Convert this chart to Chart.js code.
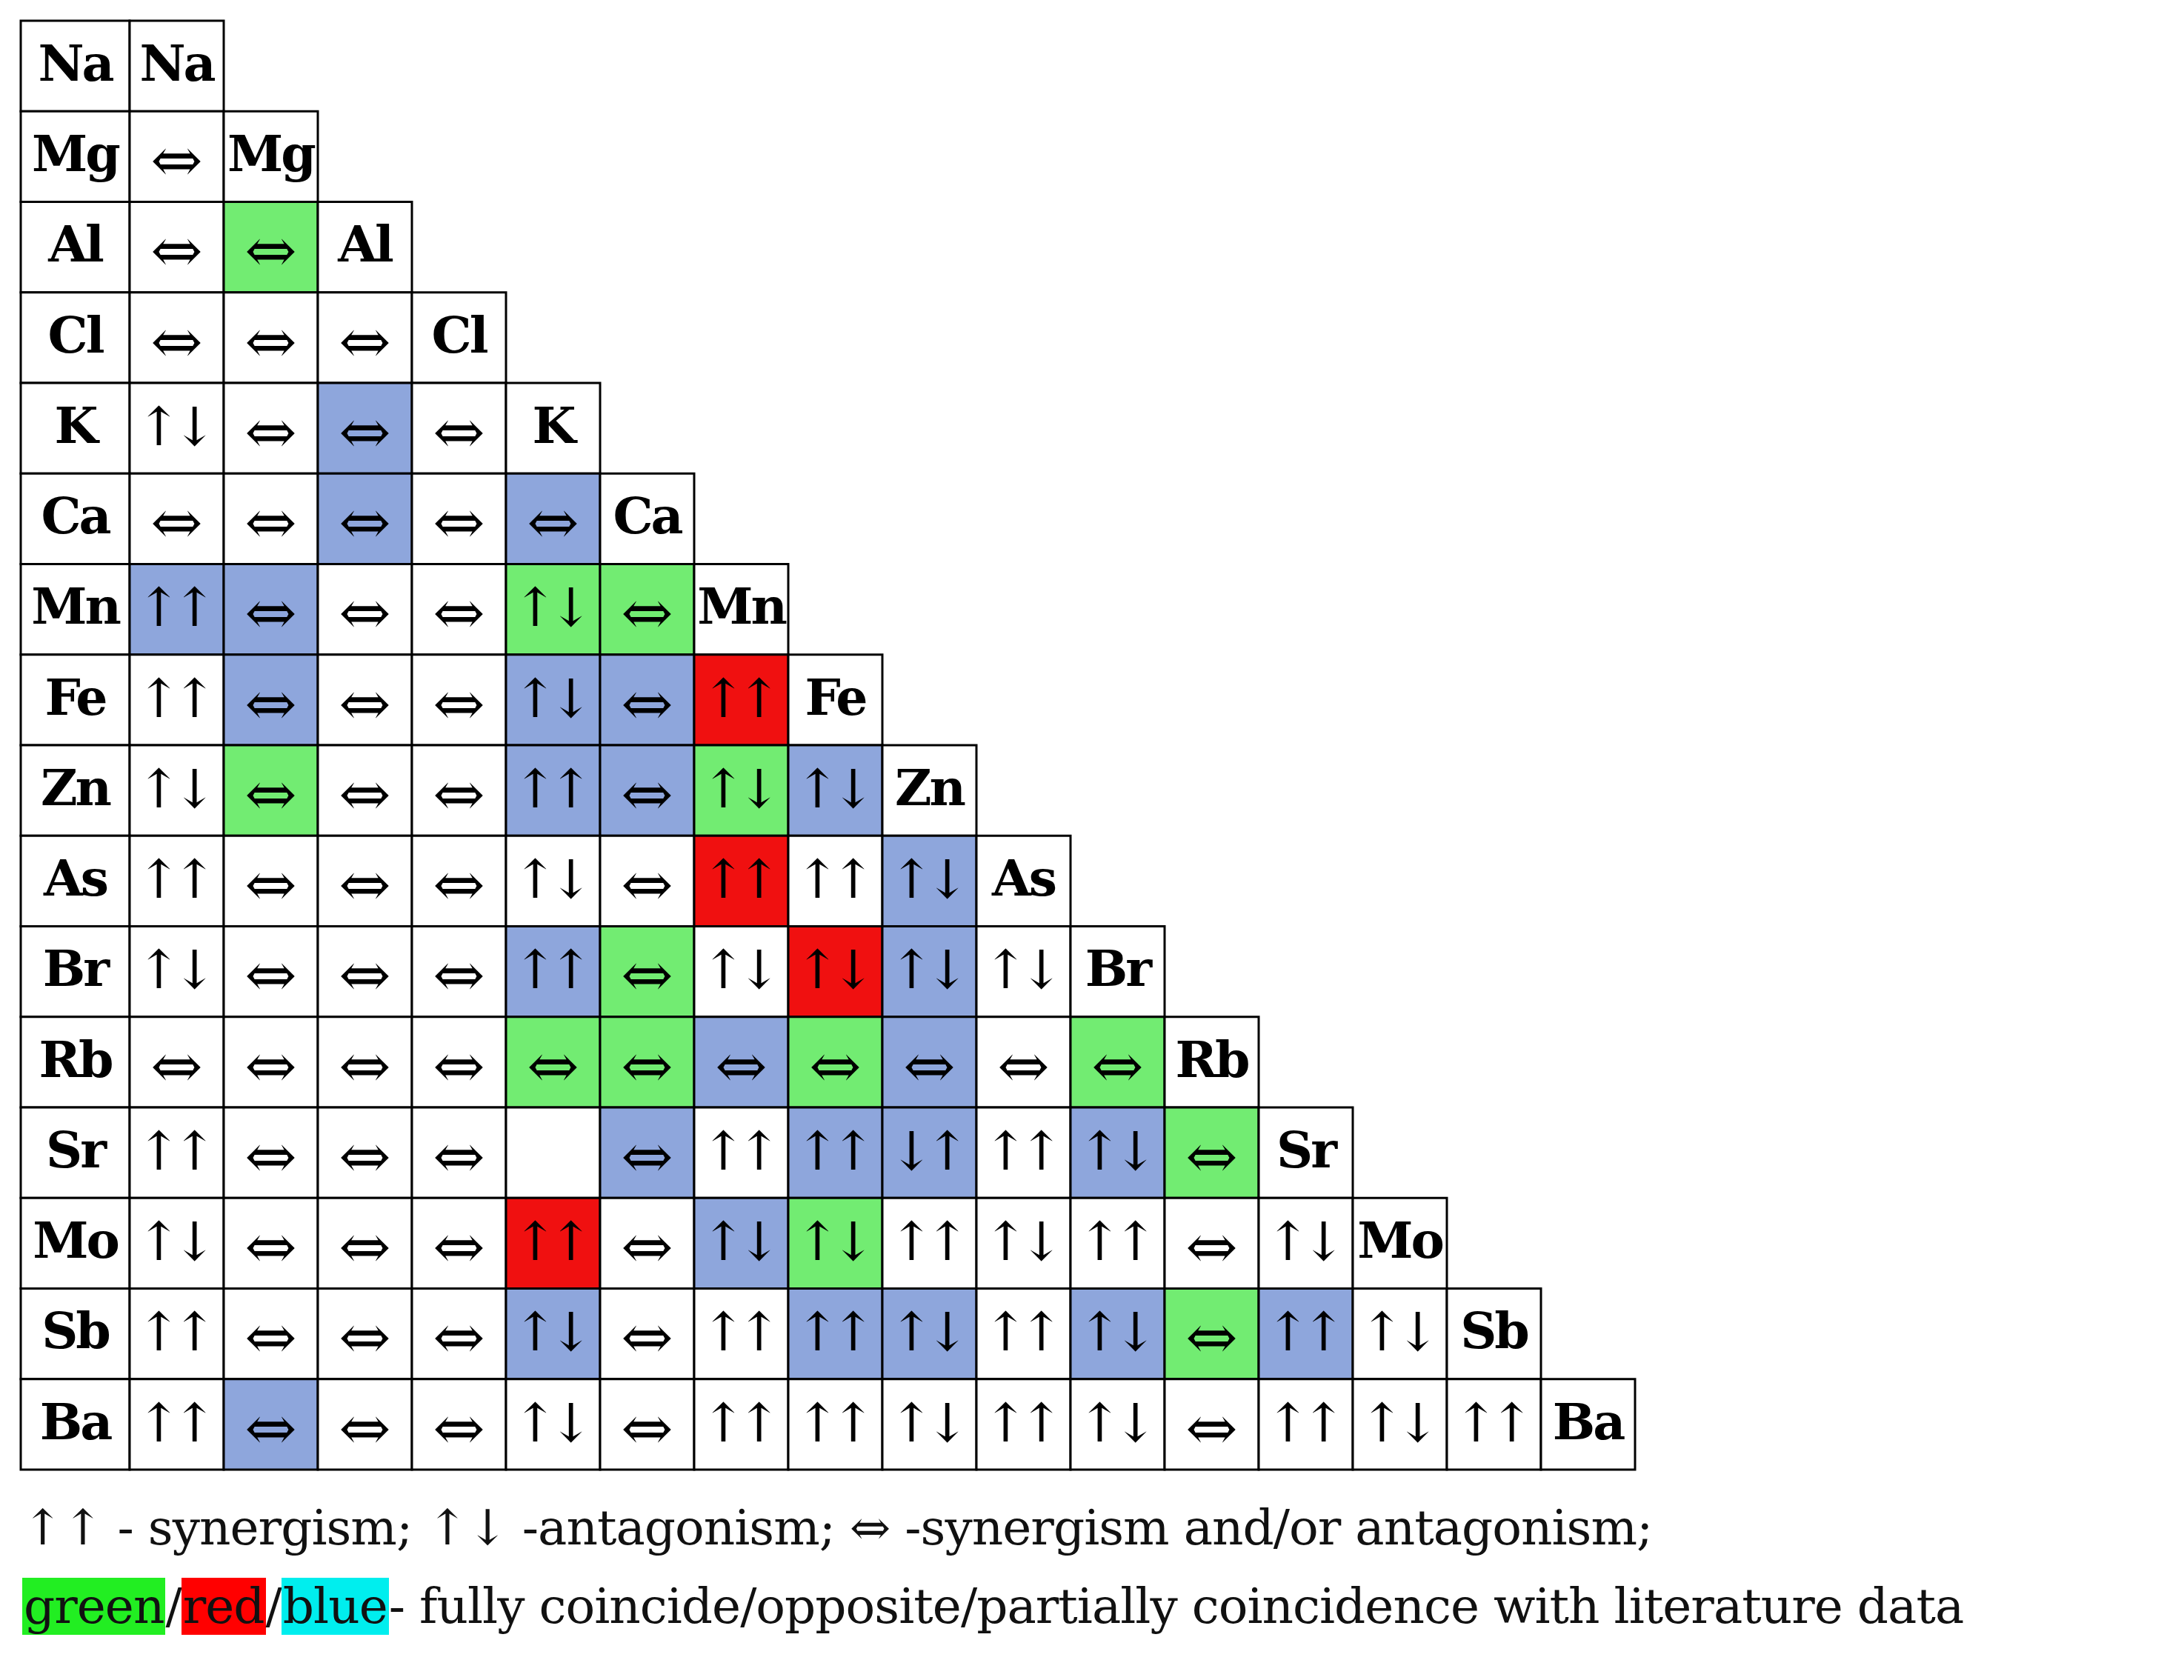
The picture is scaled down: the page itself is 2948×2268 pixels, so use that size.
<!DOCTYPE html>
<html>
<head>
<meta charset="utf-8">
<script src="https://cdn.jsdelivr.net/npm/chart.js@4/dist/chart.umd.min.js"></script>
<style>
  body { margin:0; background:#fff; }
  #wrap { width:2948px; height:2010px; position:relative; }
  .legend { font-family:"DejaVu Serif","Liberation Serif",serif; font-size:66px; color:#111; margin-left:30px; line-height:106px; white-space:nowrap; letter-spacing:-1px; }
  .legend span { padding:0 2px; }
</style>
</head>
<body>
<div id="wrap"><canvas id="grid"></canvas></div>
<div class="legend">↑↑ - synergism; ↑↓ -antagonism; ⇔ -synergism and/or antagonism;</div>
<div class="legend"><span style="background:#22ee22">green</span>/<span style="background:#ff0000">red</span>/<span style="background:#00eeee">blue</span>- fully coincide/opposite/partially coincidence with literature data</div>
<script>
"use strict";

const elements = ["Na","Mg","Al","Cl","K","Ca","Mn","Fe","Zn","As","Br","Rb","Sr","Mo","Sb","Ba"];
// S = ↑↑, A = ↑↓, R = ↓↑, E = ⇔, "" = empty
const relations = [
  [],
  ["E"],
  ["E","E"],
  ["E","E","E"],
  ["A","E","E","E"],
  ["E","E","E","E","E"],
  ["S","E","E","E","A","E"],
  ["S","E","E","E","A","E","S"],
  ["A","E","E","E","S","E","A","A"],
  ["S","E","E","E","A","E","S","S","A"],
  ["A","E","E","E","S","E","A","A","A","A"],
  ["E","E","E","E","E","E","E","E","E","E","E"],
  ["S","E","E","E","","E","S","S","R","S","A","E"],
  ["A","E","E","E","S","E","A","A","S","A","S","E","A"],
  ["S","E","E","E","A","E","S","S","A","S","A","E","S","A"],
  ["S","E","E","E","A","E","S","S","A","S","A","E","S","A","S"]
];
// w = none, g = fully coincide, r = opposite, b = partially
const agreement = [
  [],
  ["w"],
  ["w","g"],
  ["w","w","w"],
  ["w","w","b","w"],
  ["w","w","b","w","b"],
  ["b","b","w","w","g","g"],
  ["w","b","w","w","b","b","r"],
  ["w","g","w","w","b","b","g","b"],
  ["w","w","w","w","w","w","r","w","b"],
  ["w","w","w","w","b","g","w","r","b","w"],
  ["w","w","w","w","g","g","b","g","b","w","g"],
  ["w","w","w","w","w","b","w","b","b","w","b","g"],
  ["w","w","w","w","r","w","b","g","w","w","w","w","w"],
  ["w","w","w","w","b","w","w","b","b","w","b","g","b","w"],
  ["w","b","w","w","w","w","w","w","w","w","w","w","w","w","w"]
];
const symbols = { S:"↑↑", A:"↑↓", R:"↓↑", E:"⇔", "":"" };
const fills = { w:"#ffffff", g:"#72ec72", r:"#f01010", b:"#8ea6dc" };
const labelColWidth = 147 / 127;

const cells = [];
elements.forEach((el, i) => {
  cells.push({ x0: -labelColWidth, x1: 0, y: i, text: el, bold: true, fill: "#ffffff" });
  relations[i].forEach((code, j) => {
    cells.push({ x0: j, x1: j + 1, y: i, text: symbols[code], code, bold: false, fill: fills[agreement[i][j]] });
  });
  cells.push({ x0: i, x1: i + 1, y: i, text: el, bold: true, fill: "#ffffff" });
});

const gridPlugin = {
  id: "grid",
  afterDatasetsDraw(chart) {
    const { ctx, scales: { x, y } } = chart;
    ctx.save();
    ctx.textAlign = "center";
    ctx.textBaseline = "middle";
    cells.forEach(c => {
      const l = x.getPixelForValue(c.x0), r = x.getPixelForValue(c.x1);
      const t = y.getPixelForValue(c.y), b = y.getPixelForValue(c.y + 1);
      ctx.fillStyle = c.fill;
      ctx.fillRect(l, t, r - l, b - t);
      ctx.strokeStyle = "#000";
      ctx.lineWidth = 3;
      ctx.strokeRect(l, t, r - l, b - t);
      ctx.fillStyle = "#000";
      ctx.letterSpacing = "0px";
      if (c.bold) {
        ctx.font = 'bold 68px "DejaVu Serif","Liberation Serif",serif';
        ctx.letterSpacing = "-3px";
        ctx.fillText(c.text, (l + r) / 2, (t + b) / 2 + 2);
      } else if (c.code === "E") {
        ctx.font = '84px "DejaVu Serif","Liberation Serif",serif';
        ctx.fillText(c.text, (l + r) / 2, (t + b) / 2 + 12);
      } else {
        ctx.font = '72px "DejaVu Serif","Liberation Serif",serif';
        ctx.letterSpacing = "-12px";
        ctx.fillText(c.text, (l + r) / 2 - 6, (t + b) / 2 + 4);
      }
    });
    ctx.restore();
  }
};

new Chart(document.getElementById("grid"), {
  type: "scatter",
  data: { datasets: [{ data: [], pointRadius: 0 }] },
  options: {
    responsive: true,
    maintainAspectRatio: false,
    animation: false,
    layout: { padding: { left: 28, top: 28, right: 741, bottom: 26 } },
    plugins: { legend: { display: false }, tooltip: { enabled: false } },
    scales: {
      x: { type: "linear", min: -labelColWidth, max: 16, display: false },
      y: { type: "linear", min: 0, max: 16, reverse: true, display: false }
    }
  },
  plugins: [gridPlugin]
});
</script>
</body>
</html>
